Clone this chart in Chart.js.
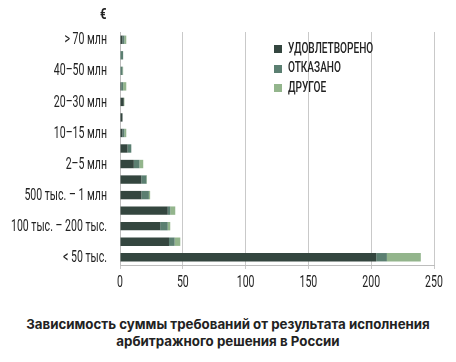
<!DOCTYPE html>
<html>
<head>
<meta charset="utf-8">
<script src="https://cdn.jsdelivr.net/npm/chart.js@4/dist/chart.umd.min.js"></script>
<style>
  html, body { margin: 0; padding: 0; background: #fff; }
  body { width: 456px; height: 362px; position: relative; overflow: hidden; font-family: Roboto, sans-serif; }
  #wrap { position: absolute; left: 0; top: 0; width: 456px; height: 300px; }
  .cond { position: absolute; white-space: nowrap; transform-origin: 0 0; color: #222; }
  #currency { left: 100px; top: 7px; font: bold 15px/15px Roboto, sans-serif; transform: scaleX(0.75); }
  .lg-box { position: absolute; left: 274px; width: 8px; height: 8px; }
  .lg-text { left: 288px; font: 500 14px/14px Roboto, sans-serif; transform: scaleX(0.72); }
  #caption { position: absolute; left: 0; top: 316px; width: 456px; text-align: center; font: 700 13.3px Inter, 'Noto Sans', sans-serif; line-height: 17px; color: #222; }
</style>
</head>
<body>
<div id="wrap"><canvas id="chart"></canvas></div>
<div id="currency" class="cond">€</div>
<div id="legend"></div>
<div id="caption">Зависимость суммы требований от результата исполнения<br>арбитражного решения в России</div>
<script>
// categories from top to bottom; every second row has no caption in the source
const categories = ['> 70 млн', '', '40–50 млн', '', '20–30 млн', '', '10–15 млн', '', '2–5 млн', '', '500 тыс. – 1 млн', '', '100 тыс. – 200 тыс.', '', '< 50 тыс.'];
const satisfied = [2, 0, 0, 1, 3, 2, 2, 6, 11, 17, 17, 38, 32, 39, 204];
const refused = [1.5, 2.5, 2, 1.5, 0, 0, 1.5, 3, 4.5, 4, 6, 2, 6, 4.5, 8.5];
const other = [1.5, 0, 0.5, 2.5, 0.5, 0, 1.5, 0, 3, 0.5, 1, 4, 2, 4.5, 27];
const seriesNames = ['УДОВЛЕТВОРЕНО', 'ОТКАЗАНО', 'ДРУГОЕ'];
const xTicks = [0, 50, 100, 150, 200, 250];

const colors = ['#34463f', '#5b7f71', '#93b58c'];

// legend (html, narrow type is faked with scaleX)
const legendEl = document.getElementById('legend');
seriesNames.forEach((name, i) => {
    const top = 40.5 + i * 19.5;
    const box = document.createElement('div');
    box.className = 'lg-box';
    box.style.top = (top + 4.5) + 'px';
    box.style.background = colors[i];
    const txt = document.createElement('div');
    txt.className = 'cond lg-text';
    txt.style.top = top + 'px';
    txt.textContent = name;
    legendEl.appendChild(box);
    legendEl.appendChild(txt);
});

// the source uses a tall condensed face; draw tick labels squeezed horizontally
const condensedTicks = {
    id: 'condensedTicks',
    afterDraw(chart) {
        const { ctx, chartArea, scales: { x, y } } = chart;
        ctx.save();
        ctx.fillStyle = '#222';
        ctx.font = '17px Roboto';
        ctx.textBaseline = 'alphabetic';

        ctx.textAlign = 'right';
        y.ticks.forEach((t, i) => {
            const label = categories[t.value];
            if (!label) return;
            ctx.save();
            ctx.translate(chartArea.left - 13, y.getPixelForTick(i) + 4.6);
            ctx.scale(0.62, 1);
            ctx.fillText(label, 0, 0);
            ctx.restore();
        });

        ctx.textAlign = 'center';
        x.ticks.forEach(t => {
            ctx.save();
            ctx.translate(x.getPixelForValue(t.value), chartArea.bottom + 21.5);
            ctx.scale(0.62, 1);
            ctx.fillText(String(t.value), 0, 0);
            ctx.restore();
        });
        ctx.restore();
    }
};

const ctx = document.getElementById('chart').getContext('2d');
new Chart(ctx, {
    type: 'bar',
    data: {
        labels: categories,
        datasets: [satisfied, refused, other].map((d, i) => ({
            label: seriesNames[i],
            data: d,
            backgroundColor: colors[i],
            borderWidth: 0,
            barPercentage: 0.54,
            categoryPercentage: 1
        }))
    },
    options: {
        indexAxis: 'y',
        responsive: true,
        maintainAspectRatio: false,
        animation: false,
        layout: { padding: { top: 32, right: 22, bottom: 0, left: 0 } },
        plugins: {
            legend: { display: false },
            tooltip: { enabled: false }
        },
        scales: {
            x: {
                stacked: true,
                min: 0,
                max: 250,
                afterBuildTicks: axis => { axis.ticks = xTicks.map(v => ({ value: v })); },
                grid: { color: '#c9c9c9', lineWidth: 1, tickLength: 4, drawTicks: true },
                border: { display: true, color: '#bdbdbd' },
                ticks: { display: false },
                afterFit: scale => { scale.height = 35; }
            },
            y: {
                stacked: true,
                grid: { display: false },
                border: { display: true, color: '#bdbdbd' },
                ticks: { display: false },
                afterFit: scale => { scale.width = 120; }
            }
        }
    },
    plugins: [condensedTicks]
});
</script>
</body>
</html>
